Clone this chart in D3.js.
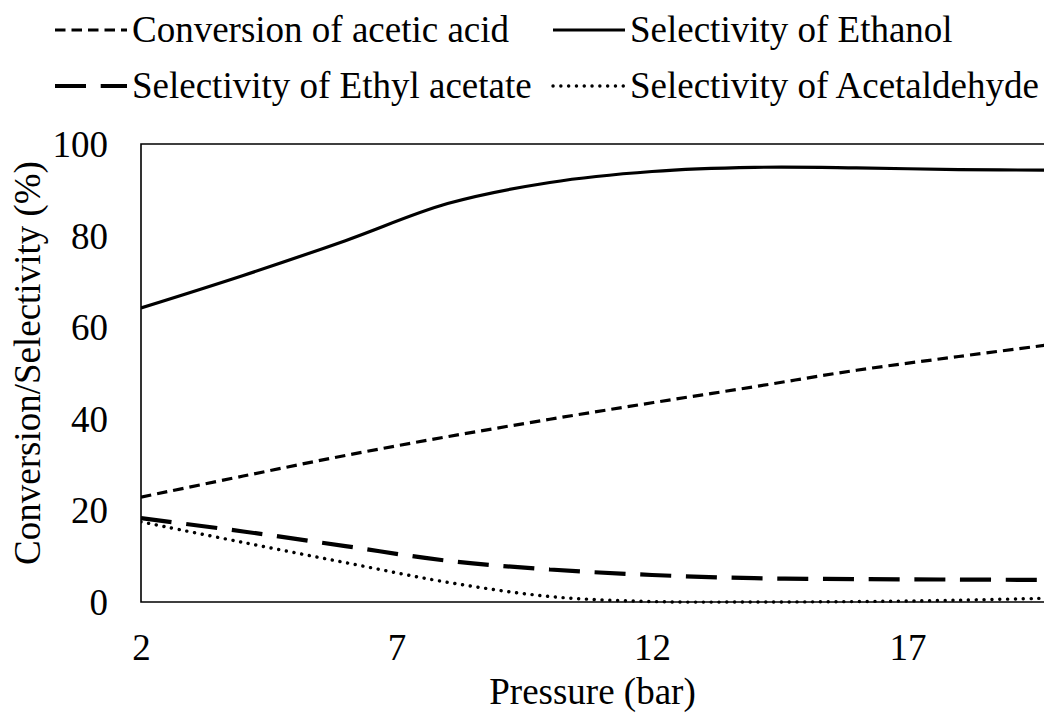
<!DOCTYPE html>
<html>
<head>
<meta charset="utf-8">
<script src="https://cdn.jsdelivr.net/npm/d3@7"></script>
</head>
<body style="margin:0">
<script>
// ---- data ----
const pressure = [2, 4, 6, 8, 10, 12, 14, 16, 18, 20];
const conversionAceticAcid = [22.9, 27.5, 32.0, 36.1, 39.9, 43.5, 47.0, 50.6, 53.6, 56.5];
const selectivityEthanol = [64.2, 71.3, 78.9, 87.0, 91.6, 94.0, 94.9, 94.8, 94.4, 94.3];
const selectivityEthylAcetate = [18.3, 15.4, 12.2, 9.0, 7.1, 5.9, 5.2, 5.0, 4.9, 4.8];
const selectivityAcetaldehyde = [17.5, 13.0, 8.6, 4.3, 1.2, 0.1, 0.0, 0.1, 0.4, 0.9];
const xTicks = [2, 7, 12, 17];
const yTicks = [0, 20, 40, 60, 80, 100];
const seriesNames = ["Conversion of acetic acid", "Selectivity of Ethanol",
                     "Selectivity of Ethyl acetate", "Selectivity of Acetaldehyde"];

const FONT = "'Liberation Serif'";
const FS = "37px";

const svg = d3.select("body").append("svg").attr("width", 1044).attr("height", 715)
  .style("display", "block");
const L = 141, T = 144, B = 602, R = 1044;
const x = d3.scaleLinear().domain([2, 19.67]).range([L, R]);
const y = d3.scaleLinear().domain([0, 100]).range([B, T]);

const styles = [
  { dash: "10.5 6", width: 3.2, cap: "butt" },
  { dash: null, width: 3.2, cap: "butt" },
  { dash: "31 14.7", width: 4.2, cap: "butt" },
  { dash: "0.1 7.7", width: 3.4, cap: "round" }
];
const data = [conversionAceticAcid, selectivityEthanol, selectivityEthylAcetate, selectivityAcetaldehyde];

svg.append("defs").append("clipPath").attr("id", "plotclip")
  .append("rect").attr("x", L).attr("y", T - 10).attr("width", R - L + 20).attr("height", B - T + 20);

svg.append("path")
  .attr("d", `M${R + 5},${T} H${L} V${B} H${R + 5}`)
  .attr("fill", "none").attr("stroke", "#000").attr("stroke-width", 1.6);

const line = d3.line().x((d, i) => x(pressure[i])).y(d => y(d)).curve(d3.curveCatmullRom.alpha(0.5));

const g = svg.append("g").attr("clip-path", "url(#plotclip)");
data.forEach((vals, k) => {
  g.append("path")
    .datum(vals)
    .attr("d", line)
    .attr("fill", "none")
    .attr("stroke", "#000")
    .attr("stroke-width", styles[k].width)
    .attr("stroke-linecap", styles[k].cap)
    .attr("stroke-dasharray", styles[k].dash);
});

function setFont(sel) {
  sel.attr("font-family", FONT).attr("font-size", FS);
  sel.each(function () {
    this.style.setProperty("font-family", "Liberation Serif", "important");
    this.style.setProperty("font-size", FS, "important");
  });
  return sel;
}

// axes (labels only)
const xAxis = d3.axisBottom(x).tickValues(xTicks).tickSize(0).tickPadding(0);
const xg = svg.append("g").attr("transform", `translate(0,${B})`).call(xAxis);
xg.select(".domain").remove();
setFont(xg.selectAll("text").attr("dy", null).attr("y", 58).attr("fill", "#000"));

const yAxis = d3.axisLeft(y).tickValues(yTicks).tickSize(0).tickPadding(0);
const yg = svg.append("g").attr("transform", `translate(108,0)`).call(yAxis);
yg.select(".domain").remove();
setFont(yg.selectAll("text").attr("dy", "0.34em").attr("x", 0).attr("fill", "#000"));

// axis titles
setFont(svg.append("text").attr("x", (L + R) / 2).attr("y", 704).attr("text-anchor", "middle"))
  .text("Pressure (bar)");
setFont(svg.append("text").attr("transform", `translate(40,${(T + B) / 2 - 10}) rotate(-90)`)
  .attr("text-anchor", "middle"))
  .text("Conversion/Selectivity (%)");

// legend
const legendPos = [
  { x0: 55, x1: 127, ly: 30, tx: 132, ty: 42 },
  { x0: 553, x1: 625, ly: 30, tx: 630, ty: 42 },
  { x0: 55, x1: 127, ly: 86, tx: 132, ty: 98 },
  { x0: 553, x1: 625, ly: 86, tx: 630, ty: 98 }
];
seriesNames.forEach((name, k) => {
  const p = legendPos[k];
  svg.append("line").attr("x1", p.x0).attr("x2", p.x1).attr("y1", p.ly).attr("y2", p.ly)
    .attr("stroke", "#000").attr("stroke-width", styles[k].width)
    .attr("stroke-linecap", styles[k].cap).attr("stroke-dasharray", styles[k].dash);
  setFont(svg.append("text").attr("x", p.tx).attr("y", p.ty)).text(name);
});
</script>
</body>
</html>
